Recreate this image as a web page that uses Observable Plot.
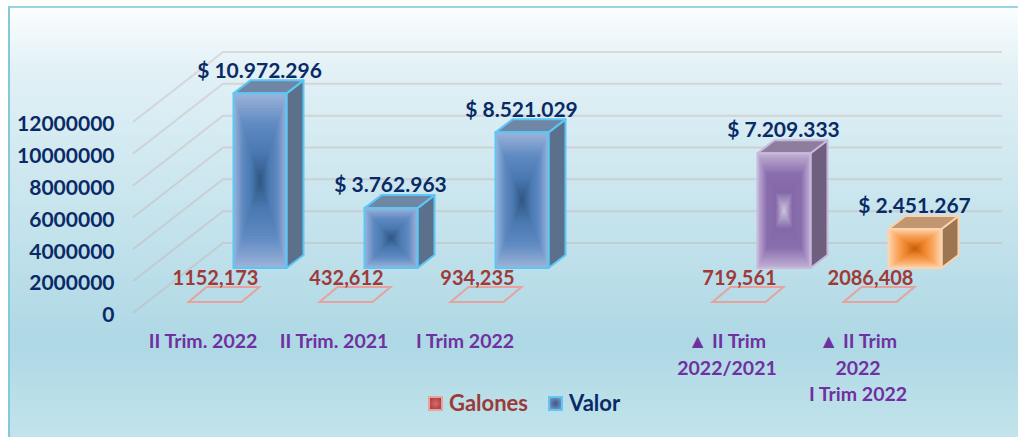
<!DOCTYPE html>
<html lang="es">
<head>
<meta charset="utf-8">
<script src="https://cdn.jsdelivr.net/npm/d3@7"></script>
<script src="https://cdn.jsdelivr.net/npm/@observablehq/plot@0.6"></script>
<style>
  html, body { margin: 0; padding: 0; background: #fff; overflow: hidden; }
  #stage { position: relative; width: 1018px; height: 437px; font-family: Lato, sans-serif; font-weight: 700; }
  #panel { position: absolute; left: 8px; top: 6px; right: 0; bottom: 0;
    border-left: 2px solid #83c9da; border-top: 2px solid #9ad4e2;
    background: linear-gradient(180deg, #fbfeff 0%, #e2f1f6 14%, #aed8e5 78%, #c2e4eb 100%); }
  #chart { position: absolute; left: 0; top: 0; }
  #legend { position: absolute; left: 428px; top: 390px; display: flex; align-items: center; font-size: 22px; line-height: 26px; }
  #legend span.sw { width: 11px; height: 11px; display: inline-block; box-sizing: content-box; }
  #legend .g { color: #9c3a38; margin: 0 20px 0 6px; }
  #legend .v { color: #0a2a66; margin-left: 6px; }
  #legend .sg { border: 2px solid #e8a3a0; background: radial-gradient(circle, #d96a66, #a33a38); }
  #legend .sv { border: 2px solid #62c6f4; background: radial-gradient(circle, #37598c, #7d9cc8); }
</style>
</head>
<body>
<div id="stage">
  <div id="panel"></div>
  <div id="chart"></div>
  <div id="legend">
    <span class="sw sg"></span><span class="g">Galones</span>
    <span class="sw sv"></span><span class="v">Valor</span>
  </div>
</div>
<script>
const categories = ["II Trim. 2022", "II Trim. 2021", "I Trim 2022", " ", "▲ II Trim\n2022/2021", "▲ II Trim\n2022\nI Trim 2022"];
const valor = [10972296, 3762963, 8521029, null, 7209333, 2451267];
const galones = [1152173, 432612, 934235, null, 719561, 2086408];
const yTicks = [0, 2000000, 4000000, 6000000, 8000000, 10000000, 12000000];

const navy = "#0a2a66", maroon = "#9e3a38", purple = "#7030a0";
const themes = {
  blue: {edge: "#5cc6f5", top: "#6f86a5", side: "#5a708b",
         stops: ["#9ab2d8", "#5f8ac2", "#4a78b0", "#2f5580"]},
  violet: {edge: "#c9b8dc", top: "#8d7e9d", side: "#6e5f7e",
           stops: ["#bfaed3", "#8a6fae", "#8468a8", "#d2cbe2"]},
  orange: {edge: "#fbd3ad", top: "#c19670", side: "#9d7651",
           stops: ["#fcd3ab", "#f9a45c", "#ec822a", "#bd5e0a"]}
};
const themeOf = ["blue", "blue", "blue", null, "violet", "orange"];

const rows = categories
  .map((cat, i) => ({cat, valor: valor[i], galones: galones[i], theme: themeOf[i]}))
  .filter((d) => d.valor != null);

const moneyFmt = (v) => "$ " + d3.format(",")(v).replace(/,/g, ".");
const galFmt = (v) => `${Math.floor(v / 1000)},${String(v % 1000).padStart(3, "0")}`;
const svgNS = "http://www.w3.org/2000/svg";
const el = (name, attrs) => {
  const n = document.createElementNS(svgNS, name);
  for (const k in attrs) n.setAttribute(k, attrs[k]);
  return n;
};

// projection of the 3D box
const wallDx = 90, wallDy = -70, wallRight = 1002;
const barShiftX = 60.5, barShiftY = -45, depthX = 17, depthY = -13;
const flatShiftX = 15.5, flatShiftY = -11, flatDepthX = 18, flatDepthY = -15;

function wall(index, scales, values, dimensions) {
  const g = el("g", {fill: "none", stroke: "#c4a9a9", "stroke-opacity": 0.36, "stroke-width": 2});
  const x0 = dimensions.marginLeft;
  for (const t of yTicks) {
    const y = scales.y(t);
    g.appendChild(el("polyline", {points: `${x0},${y} ${x0 + wallDx},${y + wallDy} ${wallRight},${y + wallDy}`}));
  }
  return g;
}

function box3d(index, scales, values, dimensions, context, next) {
  const g = next(index, scales, values, dimensions, context);
  const sel = [...g.querySelectorAll("rect")];
  sel.forEach((r, j) => {
    const d = rows[index[j]];
    const t = themes[d.theme];
    const x = +r.getAttribute("x"), y = +r.getAttribute("y"),
          w = +r.getAttribute("width"), h = +r.getAttribute("height");
    const ramp = d3.piecewise(d3.interpolateRgb, t.stops);
    const edge = {stroke: t.edge, "stroke-width": 2, "stroke-linejoin": "round"};
    g.appendChild(el("polygon", {...edge, fill: t.side,
      points: `${x + w},${y} ${x + w + depthX},${y + depthY} ${x + w + depthX},${y + h + depthY} ${x + w},${y + h}`}));
    g.appendChild(el("polygon", {...edge, fill: t.top,
      points: `${x},${y} ${x + depthX},${y + depthY} ${x + w + depthX},${y + depthY} ${x + w},${y}`}));
    const steps = 30;
    for (let s = 0; s < steps; ++s) {
      const k = s / steps;
      g.appendChild(el("rect", {x: x + k * w / 2, y: y + k * h / 2, width: w * (1 - k), height: h * (1 - k),
        fill: ramp(k), stroke: "none"}));
    }
    g.appendChild(el("rect", {x, y, width: w, height: h, fill: "none", ...edge}));
    r.remove();
  });
  return g;
}

function flat3d(index, scales, values, dimensions, context, next) {
  const g = next(index, scales, values, dimensions, context);
  [...g.querySelectorAll("rect")].forEach((r) => {
    const x = +r.getAttribute("x"), y = +r.getAttribute("y"), w = +r.getAttribute("width");
    g.appendChild(el("polygon", {fill: "none", stroke: "#e6a29c", "stroke-width": 2,
      points: `${x},${y} ${x + w},${y} ${x + w + flatDepthX},${y + flatDepthY} ${x + flatDepthX},${y + flatDepthY}`}));
    r.remove();
  });
  return g;
}

const chart = Plot.plot({
  width: 1018,
  height: 437,
  marginLeft: 133,
  marginRight: 98,
  marginTop: 122,
  marginBottom: 124,
  style: {background: "transparent", fontFamily: "Lato, sans-serif", fontWeight: 700, overflow: "visible"},
  x: {type: "band", domain: categories, padding: 0, label: null, axis: null},
  y: {domain: [0, 12000000], label: null, axis: null},
  marks: [
    wall,
    Plot.axisY({ticks: yTicks, tickSize: 0, tickPadding: 19, dy: 2, tickFormat: (d) => String(d), label: null,
      fontSize: 21, color: navy}),
    Plot.axisX({tickSize: 0, tickPadding: 16, label: null, fontSize: 19.5, color: purple, lineHeight: 1.36, dx: 3,
      tickFormat: (d) => d}),
    Plot.barY(rows, {x: "cat", y1: () => 0, y2: () => 0, dx: flatShiftX, dy: flatShiftY,
      insetLeft: 39, insetRight: 39, render: flat3d}),
    Plot.barY(rows, {x: "cat", y: "valor", dx: barShiftX, dy: barShiftY, insetLeft: 39, insetRight: 39,
      fill: (d) => themes[d.theme].stops[1], render: box3d}),
    Plot.text(rows, {x: "cat", y: () => 0, text: (d) => galFmt(d.galones), dx: flatShiftX, dy: -35,
      fontSize: 20, fill: maroon}),
    Plot.text(rows, {x: "cat", y: "valor", text: (d) => moneyFmt(d.valor), dx: barShiftX - 1, dy: barShiftY - 23,
      fontSize: 21, fill: navy})
  ]
});
document.getElementById("chart").appendChild(chart);
</script>
</body>
</html>
